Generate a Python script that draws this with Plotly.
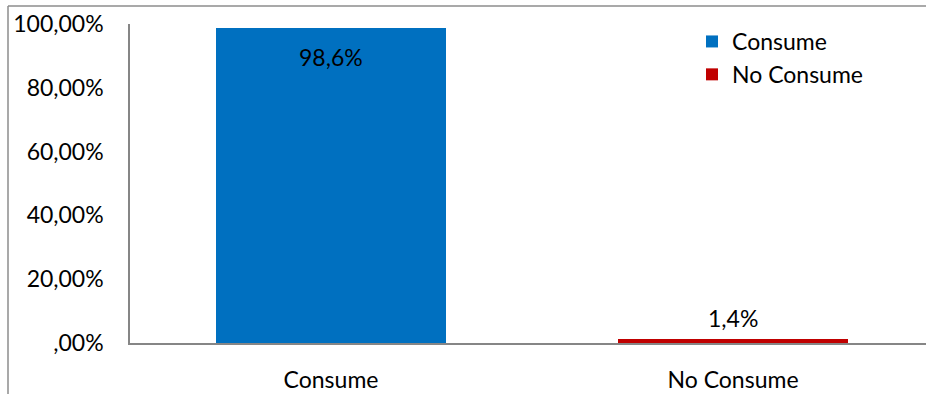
import plotly.graph_objects as go

categories = ["Consume", "No Consume"]
shares = [0.986, 0.014]
colors = ["#0070C0", "#C00000"]
tick_vals = [0, 0.2, 0.4, 0.6, 0.8, 1.0]
tick_text = [",00%", "20,00%", "40,00%", "60,00%", "80,00%", "100,00%"]

FONT = "Lato"
FS = 23
W, H = 926, 394
ML, MT, MB = 130, 24, 51
plot_w = W - ML
plot_h = H - MT - MB


def fmt(v):
    return f"{v * 100:.1f}%".replace(".", ",")


fig = go.Figure()
for cat, val, col in zip(categories, shares, colors):
    fig.add_trace(go.Bar(
        x=[cat], y=[val], name=cat, marker=dict(color=col, line=dict(width=0)),
        width=0.572,
    ))

# value labels: inside the tall bar, above the short one
label_shift = [-29, 21]
for cat, val, dy in zip(categories, shares, label_shift):
    fig.add_annotation(x=cat, y=val, text=fmt(val), showarrow=False, yshift=dy,
                       font=dict(family=FONT, size=FS, color="#000000"))

# outer frame lines (left and top)
fx = (8 - ML) / plot_w
fy = (H - MB - 6) / plot_h
fig.add_shape(type="line", xref="paper", yref="paper", x0=fx, x1=1.05, y0=fy, y1=fy,
              line=dict(color="#8C8C8C", width=1.5))
fig.add_shape(type="line", xref="paper", yref="paper", x0=fx, x1=fx, y0=fy, y1=-0.3,
              line=dict(color="#8C8C8C", width=1.5))

fig.update_layout(
    width=W, height=H, margin=dict(l=ML, r=0, t=MT, b=MB),
    plot_bgcolor="white", paper_bgcolor="white",
    barmode="overlay", bargap=0,
    font=dict(family=FONT, size=FS, color="#000000"),
    showlegend=True,
    legend=dict(x=(692 - ML) / plot_w, y=(H - MB - 20) / plot_h, xanchor="left", yanchor="top",
                font=dict(family=FONT, size=FS), bgcolor="rgba(0,0,0,0)",
                itemwidth=30, tracegroupgap=6),
    xaxis=dict(type="category", range=[-0.5, 1.48], showgrid=False, showline=True,
               linecolor="#868686", linewidth=1.5, ticks="outside", ticklen=16,
               tickcolor="rgba(0,0,0,0)", tickfont=dict(family=FONT, size=FS)),
    yaxis=dict(range=[0, 1], tickvals=tick_vals, ticktext=tick_text, showgrid=False,
               showline=True, linecolor="#868686", linewidth=1.5, ticks="outside",
               ticklen=20, tickcolor="rgba(0,0,0,0)", zeroline=False,
               tickfont=dict(family=FONT, size=FS)),
)

fig.write_html("out.html")
